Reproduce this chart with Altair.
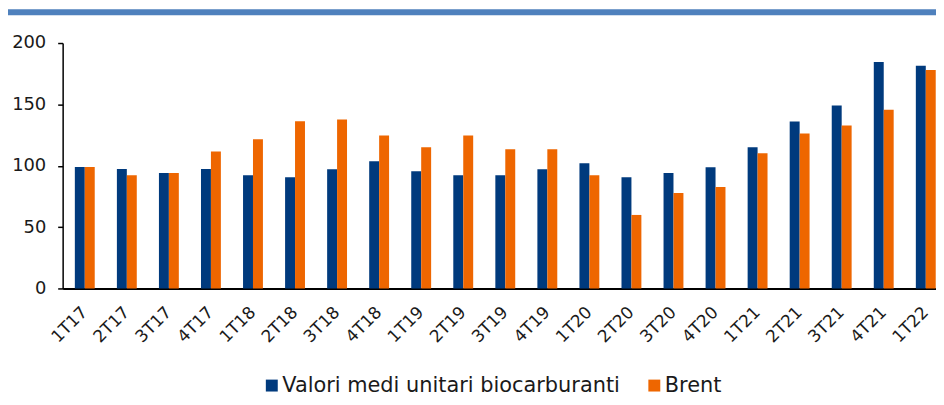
import altair as alt
import pandas as pd

quarters = ["1T17", "2T17", "3T17", "4T17", "1T18", "2T18", "3T18", "4T18",
            "1T19", "2T19", "3T19", "4T19", "1T20", "2T20", "3T20", "4T20",
            "1T21", "2T21", "3T21", "4T21", "1T22"]
bio = [99, 97.4, 94, 97.4, 92.3, 90.7, 97.2, 103.6, 95.6, 92.3, 92.3, 97.2,
       102, 90.7, 94, 98.8, 115, 136, 149, 184.6, 181.4]
brent = [99, 92.3, 94, 111.7, 121.5, 136.3, 137.6, 124.7, 115, 124.7, 113.4, 113.4,
         92.3, 59.9, 77.7, 82.6, 110.1, 126.3, 132.8, 145.7, 178.1]
series_names = ["Valori medi unitari biocarburanti", "Brent"]
series_colors = ["#003A7D", "#EE6600"]
y_ticks = [0, 50, 100, 150, 200]

rows = []
for q, b, r in zip(quarters, bio, brent):
    rows.append({"quarter": q, "series": series_names[0], "value": b})
    rows.append({"quarter": q, "series": series_names[1], "value": r})
df = pd.DataFrame(rows)

W = 879
H = 247
FONT = "DejaVu Sans"

bars = alt.Chart(df).mark_bar().encode(
    x=alt.X("quarter:N", sort=quarters,
            scale=alt.Scale(range=[0, 891], paddingInner=0.527, paddingOuter=0.29),
            axis=alt.Axis(title=None, labelAngle=-45, labelAlign="right",
                          labelBaseline="middle", ticks=False, labelPadding=21,
                          labelFontSize=17, labelColor="#1a1a1a",
                          domainColor="#000000", domainWidth=2)),
    xOffset=alt.XOffset("series:N", sort=series_names,
                        scale=alt.Scale(paddingInner=0, paddingOuter=0)),
    y=alt.Y("value:Q", scale=alt.Scale(domain=[0, 200]),
            axis=alt.Axis(title=None, values=y_ticks, grid=False, tickSize=5,
                          tickColor="#000000", domainColor="#000000",
                          domainWidth=1.5, tickWidth=1.5, labelPadding=12,
                          labelFontSize=18, labelColor="#1a1a1a")),
    color=alt.Color("series:N", sort=series_names,
                    scale=alt.Scale(domain=series_names, range=series_colors),
                    legend=alt.Legend(title=None, orient="none", legendX=200,
                                      legendY=334, direction="horizontal",
                                      symbolType="square", symbolSize=144,
                                      symbolStrokeWidth=0, labelFontSize=21,
                                      labelColor="#1a1a1a", labelLimit=600,
                                      columnPadding=24, labelOffset=0,
                                      padding=0)),
)

band = alt.Chart(pd.DataFrame({"k": [0]})).mark_rect(color="#4F81BD").encode(
    x=alt.value(-60), x2=alt.value(W + 10), y=alt.value(-34), y2=alt.value(-28)
)

chart = alt.layer(band, bars).properties(
    width=W, height=H,
    padding={"left": 55, "top": 34, "right": 0, "bottom": 108},
    autosize=alt.AutoSizeParams(type="none"),
).configure(font=FONT).configure_view(stroke=None)

chart.save("out.html", embed_options={"renderer": "svg", "actions": False})
